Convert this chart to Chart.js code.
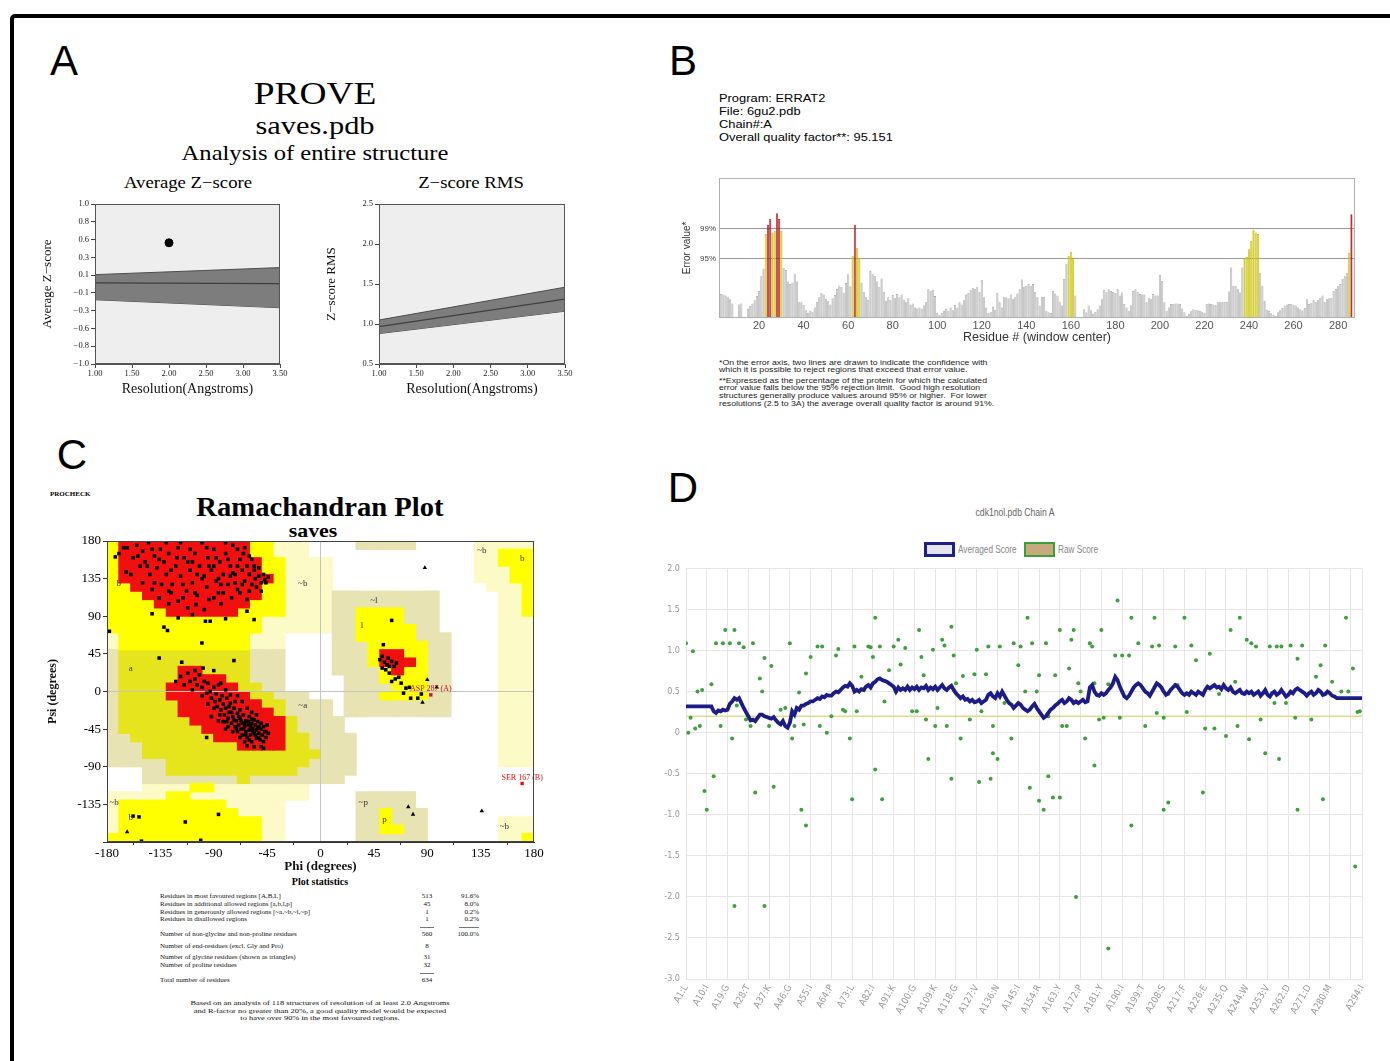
<!DOCTYPE html>
<html>
<head>
<meta charset="utf-8">
<title>Structure validation panels</title>
<script src="https://cdn.jsdelivr.net/npm/chart.js@4.4.1/dist/chart.umd.min.js"></script>
<style>
html,body{margin:0;padding:0;background:#fff}
body{width:1390px;height:1061px;position:relative;overflow:hidden;font-family:"Liberation Sans",Arial,sans-serif;color:#000}
#frame{position:absolute;left:10px;top:14px;width:1420px;height:1100px;border:4px solid #000;border-radius:5px}
.t{position:absolute;white-space:nowrap;line-height:1}
.c{transform:translate(-50%,-50%)}
.l{transform:translate(0,-50%)}
.r{transform:translate(-100%,-50%)}
.serif{font-family:"Liberation Serif","Times New Roman",serif}
.narrow{font-family:"Liberation Sans Narrow","DejaVu Sans Condensed","Liberation Sans",sans-serif}
canvas{position:absolute}
.letter{font-size:42px}
.note{font-size:7px;color:#222;transform-origin:left center;transform:translate(0,-50%) scaleX(1.25)}
.stat{font-size:7px;color:#111}
.sep{position:absolute;height:0;border-top:1px solid #777}
.lgbox{position:absolute;box-sizing:border-box}
.wideC{transform:translate(-50%,-50%) scaleX(1.17)}
.wideL{transform-origin:left center;transform:translate(0,-50%) scaleX(1.17)}
.narrowC{transform:translate(-50%,-50%) scaleX(0.86)}
.narrowL{transform-origin:left center;transform:translate(0,-50%) scaleX(0.82)}
</style>
</head>
<body>
<div id="frame"></div>

<!-- panel letters -->
<div class="t c letter" style="left:64px;top:61px">A</div>
<div class="t c letter" style="left:683px;top:61px">B</div>
<div class="t c letter" style="left:72px;top:455px">C</div>
<div class="t c letter" style="left:683px;top:488px">D</div>

<!-- Panel A texts -->
<div class="t wideC serif" style="left:315px;top:93px;font-size:32px">PROVE</div>
<div class="t wideC serif" style="left:315px;top:126px;font-size:26px">saves.pdb</div>
<div class="t wideC serif" style="left:315px;top:153px;font-size:21px">Analysis of entire structure</div>
<div class="t wideC serif" style="left:188px;top:183px;font-size:16px">Average Z&#8722;score</div>
<div class="t wideC serif" style="left:471px;top:183px;font-size:16px">Z&#8722;score RMS</div>

<!-- Panel B texts -->
<div class="t wideL" style="left:719px;top:98px;font-size:11px">Program: ERRAT2</div>
<div class="t wideL" style="left:719px;top:111px;font-size:11px">File: 6gu2.pdb</div>
<div class="t wideL" style="left:719px;top:124px;font-size:11px">Chain#:A</div>
<div class="t wideL" style="left:719px;top:137px;font-size:11px">Overall quality factor**: 95.151</div>
<div class="t note" style="left:719px;top:362px">*On the error axis, two lines are drawn to indicate the confidence with</div>
<div class="t note" style="left:719px;top:369px">which it is possible to reject regions that exceed that error value.</div>
<div class="t note" style="left:719px;top:380px">**Expressed as the percentage of the protein for which the calculated</div>
<div class="t note" style="left:719px;top:387px">error value falls below the 95% rejection limit.&nbsp; Good high resolution</div>
<div class="t note" style="left:719px;top:395px">structures generally produce values around 95% or higher.&nbsp; For lower</div>
<div class="t note" style="left:719px;top:403px">resolutions (2.5 to 3A) the average overall quality factor is around 91%.</div>

<!-- Panel C texts -->
<div class="t l serif" style="left:50px;top:494px;font-size:7px;font-weight:bold">PROCHECK</div>
<div class="t c serif" style="left:320px;top:507px;font-size:27px;font-weight:bold;transform:translate(-50%,-50%) scaleX(1.06)">Ramachandran Plot</div>
<div class="t c serif" style="left:313px;top:530px;font-size:19px;font-weight:bold;transform:translate(-50%,-50%) scaleX(1.15)">saves</div>
<div class="t c serif" style="left:320px;top:882px;font-size:10px;font-weight:bold">Plot statistics</div>
<div id="statTable"></div>
<div class="t c serif stat" style="left:320px;top:1003px;font-size:7px;transform:translate(-50%,-50%) scaleX(1.2)">Based on an analysis of 118 structures of resolution of at least 2.0 Angstroms</div>
<div class="t c serif stat" style="left:320px;top:1011px;font-size:7px;transform:translate(-50%,-50%) scaleX(1.2)">and R-factor no greater than 20%, a good quality model would be expected</div>
<div class="t c serif stat" style="left:320px;top:1018px;font-size:7px;transform:translate(-50%,-50%) scaleX(1.2)">to have over 90% in the most favoured regions.</div>

<!-- Panel D texts -->
<div class="t narrowC" style="left:1015px;top:513px;font-size:10px;color:#666">cdk1nol.pdb Chain A</div>
<div class="lgbox" style="left:924px;top:542px;width:31px;height:15px;border:3px solid #1f1f8c;background:#e4e4ec"></div>
<div class="t narrowL" style="left:958px;top:550px;font-size:10px;color:#888">Averaged Score</div>
<div class="lgbox" style="left:1024px;top:542px;width:31px;height:15px;border:2px solid #3aa03a;background:#c6aa7c"></div>
<div class="t narrowL" style="left:1058px;top:550px;font-size:10px;color:#888">Raw Score</div>

<canvas id="zavg" width="250" height="207" style="left:40px;top:195px"></canvas>
<canvas id="zrms" width="251" height="207" style="left:324px;top:195px"></canvas>
<canvas id="errat" width="689" height="177" style="left:681px;top:170px"></canvas>
<canvas id="rama" width="504" height="346" style="left:46px;top:531px"></canvas>
<canvas id="verify" width="736" height="482" style="left:640px;top:557px"></canvas>

<script>
// ---------------- Panel A : PROVE ----------------
const resolutionEnds = [1.0, 3.5];
const zAvgUpper = [0.117, 0.205];
const zAvgMean = [0.013, 0.004];
const zAvgLower = [-0.197, -0.297];
const zAvgModel = [[2.0, 0.515]];
const zAvgTickValues = [1.0, 0.778, 0.556, 0.333, 0.111, -0.111, -0.333, -0.556, -0.778, -1.0];
const zAvgTickLabels = ['1.0','0.8','0.6','0.3','0.1','\u22120.1','\u22120.3','\u22120.6','\u22120.8','\u22121.0'];
const zRmsUpper = [1.05, 1.46];
const zRmsMean = [0.967, 1.31];
const zRmsLower = [0.88, 1.16];
const zRmsTickValues = [0.5, 1.0, 1.5, 2.0, 2.5];
const resolutionTicks = [1.0, 1.5, 2.0, 2.5, 3.0, 3.5];

// ---------------- Panel B : ERRAT ----------------
const erratFirstResidue = 3;
const erratValues = [
 4.6,4.5,4.3,4.0,3.6,2.8,0,0,2.6,2.8,
 0,0,1.8,2.3,2.8,3.4,4.2,5.2,8.0,9.5,
 16.1,17.9,19.0,16.4,16.7,20.1,19.0,16.7,9.6,9.2,
 7.0,6.5,6.8,8.5,7.0,3.0,3.0,2.5,1.5,1.0,
 1.4,1.2,2.0,3.0,4.0,4.8,4.5,3.7,3.2,2.6,
 3.8,4.4,5.6,6.2,6.0,4.8,6.7,8.4,6.1,11.9,
 17.9,13.5,11.5,6.8,5.0,4.0,3.5,9.0,8.5,8.0,
 7.0,6.0,7.6,5.0,3.2,4.0,3.5,4.4,3.8,4.6,
 4.0,4.5,3.5,3.0,3.8,2.6,2.8,2.0,1.8,2.0,
 1.8,2.4,3.0,5.5,5.2,5.4,4.2,1.0,0.6,1.0,
 1.4,1.8,1.4,2.0,1.5,2.5,2.0,3.0,2.6,3.4,
 4.5,4.8,5.4,5.8,5.5,6.0,5.0,7.3,4.0,2.0,
 1.0,1.2,2.2,1.6,4.8,3.0,2.0,4.0,4.0,3.8,
 4.5,3.6,4.0,4.7,5.5,7.4,6.0,6.2,6.5,6.2,
 6.5,5.0,4.1,2.4,4.1,4.1,1.4,1.1,1.0,5.2,
 4.7,4.3,3.0,2.4,7.5,10.3,11.9,12.7,11.5,4.3,
 0,0,0,1.7,1.1,2.4,1.5,0.8,1.2,1.7,
 2.4,3.6,5.4,5.0,5.5,5.2,5.0,4.8,5.5,4.3,
 4.9,2.7,2.0,1.4,2.4,5.2,5.5,5.0,4.6,4.5,
 4.5,3.0,3.9,3.6,4.6,4.3,4.3,8.3,7.1,3.0,
 1.4,2.0,2.7,2.7,2.8,2.8,2.7,1.8,1.1,0.4,
 0.8,1.3,1.7,1.6,1.5,1.4,1.2,1.0,2.7,2.8,
 2.7,2.6,2.5,3.0,3.0,3.0,3.1,3.1,5.1,9.7,
 6.2,6.2,5.5,4.9,9.7,11.5,11.7,13.2,14.8,17.0,
 16.4,16.1,8.7,6.2,3.3,1.6,1.4,0.9,0.6,0.4,
 1.1,1.5,1.9,2.4,2.6,2.7,2.7,2.5,2.4,2.0,
 1.7,1.5,1.9,3.6,2.7,2.9,3.4,3.0,3.5,3.9,
 4.3,3.0,3.6,3.8,3.9,5.2,5.6,6.2,6.5,7.5,
 8.0,8.7,12.5,19.9
];
const erratLimitValues = [11.38, 17.19];
const erratLimitLabels = ['95%', '99%'];
const erratResidueTicks = [20,40,60,80,100,120,140,160,180,200,220,240,260,280];

// ---------------- Panel C : Ramachandran ----------------
// 36 rows (psi 180 -> -180, 10 deg each), run-length coded over 36 phi bins (-180 -> 180)
// R core, Y allowed, D allowed (shaded), G generous (shaded), C generous, W disallowed
const ramaRegionRows = [
 'Y1R11Y2C3W4G5W5C5','Y1R11Y2C3W14C2Y3','Y1R12Y2C4W12C2Y3','Y1R12Y2C4W12C3Y2',
 'Y1R13Y1C4W12C3Y2','Y2R11Y2C4W13C3Y1','Y3R10Y2C4G9W5C2Y1','Y4R8Y3C4G9W5C2Y1',
 'Y5R6Y4C4G2Y4G3W5C2Y1','Y13C6G2Y4G3W5C3','Y13C6G2Y5G2W5C3','C1Y11C3W4G2Y5G3W4C3',
 'C1Y11C3W4G3Y5G2W4C3','G1D11G3W4G3Y1R2Y2G2W4C3','G1D11G3W4G3Y1R3Y1G2W4C3','G1D5R2D4G3W4G4Y1R1Y2G2W4C3',
 'G1D5R4D2G3W5G3Y4G2W4C3','G1D4R6D2G2W5G4Y3G2W4C3','G1D4R7D2G3W3G3Y4G2W4C3','G1D5R7D2G4W1G9W4C3',
 'G1D5R8D1G4W1G9W4C3','G1D6R8D1G4W13C3','G1D7R7D1G4W13C3','G2D7R6D2G4W12C3',
 'G3D8R4D2G4W12C3','G3D15G3W12C3','G5D12G4W12C3','W3G2D11G5W15',
 'W3G8D1G8W16','W3C4Y2C8W19','C5Y2C10W4G5W10','C1Y9C5W6G5W10',
 'C1Y10C4W6G2Y1G3W9','C1Y12C2W6G2Y1G3W6C3','C1Y12C2W6G2Y2G2W6C3','Y13C2W6G6W6C2Y1'
];
const ramaResidues = [
 [-170,165],[-163,172],[-158,160],[-155,175],[-150,168],[-148,155],[-145,178],[-140,162],[-138,148],[-135,170],
 [-132,155],[-130,140],[-128,165],[-125,128],[-122,150],[-120,172],[-118,138],[-115,160],[-113,120],[-110,145],
 [-108,130],[-106,165],[-104,115],[-102,150],[-100,178],[-98,138],[-96,125],[-95,160],[-92,145],[-90,170],
 [-88,132],[-86,118],[-85,155],[-82,140],[-80,165],[-78,128],[-76,150],[-74,175],[-72,140],[-70,122],
 [-68,158],[-66,145],[-64,132],[-62,150],[-60,140],[-58,128],[-56,145],[-55,135],[-52,138],[-50,130],
 [-160,140],[-150,130],[-142,122],[-136,112],[-128,105],[-120,108],[-112,100],[-105,104],[-98,98],[-90,112],
 [-84,105],[-75,112],[-68,118],[-62,110],[-58,158],[-70,170],[-65,165],[-80,178],[-118,178],[-130,178],
 [-144,140],[-152,150],[-134,128],[-126,118],[-116,128],[-108,155],[-100,135],[-94,150],[-88,160],[-76,138],
 [-72,130],[-66,128],[-60,120],[-54,125],[-48,140],[-46,130],
 [-166,172],[-154,162],[-146,150],[-142,170],[-136,158],[-126,145],[-121,160],[-112,155],[-110,170],[-104,140],
 [-96,172],[-90,150],[-84,128],[-82,118],[-78,158],[-74,142],[-70,150],[-64,172],[-60,162],[-56,150],
 [-52,148],[-50,120],[-47,134],[-44,137],[-140,130],[-128,120],[-116,112],[-106,118],[-94,110],[-86,135],
 [-173,161],[-164,143],[-142,93],[-132,77],[-129,73],[-120,88],[-108,92],[-97,84],[-93,84],[-80,87],
 [-62,96],[-56,86],[-178,72],[-100,58],[-136,40],[-117,35],[-99,28],[-73,37],
 [-118,18],[-112,22],[-110,12],[-106,15],[-104,8],[-102,20],[-100,5],[-98,12],[-96,-2],[-95,10],
 [-93,0],[-92,-8],[-90,5],[-89,-12],[-88,-3],[-87,-18],[-86,8],[-85,-10],[-84,-22],[-83,-5],
 [-82,-15],[-81,-28],[-80,-20],[-79,-8],[-78,-32],[-77,-25],[-76,-14],[-75,-38],[-74,-30],[-73,-20],
 [-72,-42],[-71,-35],[-70,-26],[-70,-48],[-69,-40],[-68,-32],[-67,-45],[-66,-38],[-66,-52],[-65,-28],
 [-64,-42],[-63,-35],[-63,-48],[-62,-55],[-61,-40],[-60,-30],[-60,-46],[-59,-52],[-58,-38],[-58,-60],
 [-57,-44],[-56,-34],[-56,-50],[-55,-40],[-54,-56],[-54,-46],[-53,-36],[-52,-50],[-52,-42],[-51,-58],
 [-50,-45],[-50,-38],[-49,-52],[-48,-42],[-48,-60],[-47,-48],[-46,-55],[-45,-40],[-44,-50],[-68,-22],
 [-72,-12],[-76,-4],[-80,2],[-84,10],[-90,-20],[-95,-15],[-100,-5],[-108,2],[-115,8],[-64,-60],
 [-68,-55],[-74,-48],[-78,-42],[-82,-36],[-62,-20],[-58,-25],[-54,-28],[-66,-12],[-70,-5],[-106,25],
 [-122,12],[-90,25],[-80,-45],[-86,-35],[-92,-30],[-62,-65],[-56,-66],[-50,-66],[-96,-55],[-48,-68],
 [-65,-45],[-61,-36],[-57,-48],[-53,-44],[-59,-42],[-67,-35],[-63,-52],[-55,-52],[-71,-44],[-69,-30],
 [-75,-25],[-79,-36],[-60,-58],[-52,-55],[-46,-48],[-64,-38],[-58,-33],[-73,-34],[-77,-18],[-85,-28],
 [53,56],[60,85],[52,42],[50,38],[54,35],[56,32],[58,30],[52,28],[60,36],[57,40],
 [62,30],[64,34],[55,26],[58,22],[63,15],[66,17],[60,12],[68,10],[72,4],[70,-2],
 [75,5],[76,-8],[82,-8],[85,-3],
 [-153,-150],[-158,-149],[-114,-156],[-86,-147],[-151,-179],[-101,-178]
];
const glycineResidues = [[90,14],[98,5],[86,-13],[74,-138],[78,-147],[-163,-168],[88,148],[136,-143]];
const flaggedResidues = [{name:'ASP 287 (A)', phi:93, psi:-4}, {name:'SER 167 (B)', phi:170, psi:-110}];
const regionLabels = [
 {text:'b', phi:-170, psi:129},{text:'~b', phi:-15, psi:129},{text:'~l', phi:45, psi:109},{text:'l', phi:35, psi:79},
 {text:'a', phi:-160, psi:27},{text:'~a', phi:-15, psi:-17},{text:'~b', phi:136, psi:169},{text:'b', phi:170, psi:159},
 {text:'~b', phi:-174, psi:-133},{text:'b', phi:-160, psi:-151},{text:'~p', phi:36, psi:-133},{text:'p', phi:54, psi:-153},
 {text:'~b', phi:155, psi:-162}
];
const ramaTicks = [-180,-135,-90,-45,0,45,90,135,180];
const statRows = [
 ['Residues in most favoured regions  [A,B,L]', '513', '91.6%'],
 ['Residues in additional allowed regions  [a,b,l,p]', '45', '8.0%'],
 ['Residues in generously allowed regions  [~a,~b,~l,~p]', '1', '0.2%'],
 ['Residues in disallowed regions', '1', '0.2%'],
 ['Number of non-glycine and non-proline residues', '560', '100.0%'],
 ['Number of end-residues (excl. Gly and Pro)', '8', ''],
 ['Number of glycine residues (shown as triangles)', '31', ''],
 ['Number of proline residues', '32', ''],
 ['Total number of residues', '634', '']
];

// ---------------- Panel D : Verify3D ----------------
const verifyTickResidues = [1,10,19,28,37,46,55,64,73,82,91,100,109,118,127,136,145,154,163,172,181,190,199,208,217,226,235,244,253,262,271,280,289,294];
const verifyTickLabels = ['A1:L','A10:I','A19:G','A28:T','A37:K','A46:G','A55:I','A64:P','A73:L','A82:I','A91:K','A100:G','A109:K','A118:G','A127:V','A136:N','A145:I','A154:R','A163:Y','A172:P','A181:Y','A190:I','A199:T','A208:S','A217:F','A226:E','A235:Q','A244:W','A253:V','A262:D','A271:D','A280:M','','A294:I'];
const averagedScore = [
 0.32,0.32,0.32,0.32,0.32,0.32,0.32,0.32,0.32,0.32,
 0.32,0.32,0.26,0.24,0.27,0.26,0.28,0.27,0.28,0.35,
 0.38,0.42,0.40,0.42,0.36,0.30,0.25,0.20,0.15,0.16,
 0.14,0.18,0.22,0.22,0.20,0.19,0.18,0.17,0.19,0.15,
 0.12,0.10,0.14,0.08,0.06,0.12,0.26,0.22,0.30,0.28,
 0.33,0.33,0.35,0.36,0.38,0.38,0.40,0.42,0.41,0.44,
 0.43,0.46,0.45,0.45,0.48,0.50,0.49,0.52,0.55,0.57,
 0.56,0.60,0.57,0.50,0.52,0.50,0.53,0.52,0.56,0.58,
 0.55,0.60,0.62,0.65,0.66,0.64,0.63,0.62,0.60,0.58,
 0.56,0.50,0.55,0.52,0.54,0.52,0.56,0.52,0.55,0.53,
 0.56,0.52,0.55,0.54,0.57,0.52,0.55,0.53,0.56,0.52,
 0.55,0.58,0.54,0.52,0.55,0.57,0.52,0.48,0.45,0.42,
 0.44,0.40,0.41,0.38,0.40,0.37,0.38,0.40,0.36,0.38,
 0.40,0.46,0.48,0.44,0.42,0.48,0.44,0.50,0.45,0.40,
 0.36,0.34,0.30,0.33,0.36,0.34,0.30,0.28,0.26,0.28,
 0.32,0.35,0.30,0.26,0.22,0.18,0.20,0.24,0.28,0.30,
 0.33,0.35,0.38,0.40,0.36,0.38,0.42,0.40,0.36,0.38,
 0.36,0.38,0.40,0.37,0.38,0.55,0.58,0.50,0.46,0.45,
 0.48,0.46,0.48,0.52,0.55,0.60,0.68,0.64,0.56,0.50,
 0.44,0.42,0.45,0.50,0.55,0.58,0.60,0.58,0.54,0.50,
 0.48,0.45,0.50,0.55,0.60,0.58,0.55,0.50,0.46,0.48,
 0.52,0.55,0.58,0.56,0.52,0.48,0.46,0.48,0.46,0.50,
 0.48,0.46,0.50,0.48,0.46,0.52,0.56,0.54,0.56,0.58,
 0.55,0.56,0.53,0.58,0.54,0.52,0.55,0.50,0.48,0.50,
 0.52,0.48,0.47,0.50,0.48,0.50,0.46,0.48,0.50,0.45,
 0.48,0.52,0.46,0.44,0.48,0.50,0.46,0.48,0.52,0.48,
 0.44,0.46,0.50,0.48,0.52,0.54,0.52,0.50,0.48,0.45,
 0.48,0.50,0.46,0.48,0.52,0.50,0.46,0.47,0.50,0.48,
 0.45,0.44,0.42,0.42,0.42,0.42,0.42,0.42,0.42,0.42,
 0.42,0.42,0.42,0.42
];
const rawScore = [
 [1,1.09],[2,0.0],[3,0.18],[4,0.99],[5,0.05],[6,0.50],[7,0.08],[8,0.52],[12,0.59],[14,1.09],
 [17,1.09],[16,0.08],[18,1.25],[20,1.09],[21,-0.07],[22,1.25],[23,0.33],[24,1.09],[26,1.04],[27,0.16],
 [29,0.08],[30,1.09],[33,0.66],[34,0.5],[35,0.91],[37,0.08],[38,0.81],[42,0.28],[44,0.3],[46,1.09],
 [47,-0.07],[48,0.08],[50,0.49],[52,0.1],[53,0.72],[55,0.92],[58,1.05],[59,0.08],[60,1.05],[62,0.0],
 [64,0.2],[66,0.94],[67,1.02],[69,0.28],[70,0.26],[72,-0.07],[74,1.05],[75,0.26],[77,0.68],[78,0.52],
 [80,1.05],[81,1.04],[82,0.92],[83,1.4],[85,1.05],[87,0.38],[89,0.76],[91,1.05],[92,0.5],[93,1.13],
 [94,0.83],[96,1.03],[99,0.26],[101,0.26],[102,1.25],[103,0.92],[104,0.7],[105,0.16],[108,1.01],[109,0.08],
 [110,0.3],[112,1.13],[113,1.06],[114,0.08],[116,1.29],[117,0.94],[118,0.6],[120,-0.07],[121,0.69],[124,0.16],
 [126,0.71],[127,1.01],[129,0.26],[131,0.71],[132,1.05],[134,0.08],[137,1.05],[139,0.36],[142,-0.07],[143,1.09],
 [145,0.82],[146,1.05],[148,0.5],[149,1.4],[151,1.09],[153,0.5],[154,0.7],[157,1.09],[158,0.2],[161,0.7],
 [163,1.25],[164,0.08],[166,0.08],[167,0.78],[168,1.13],[169,1.25],[171,0.6],[172,0.5],[174,-0.07],[176,1.09],
 [177,1.05],[178,0.6],[180,0.16],[181,1.25],[182,0.18],[184,0.59],[187,0.94],[188,1.61],[189,0.18],[190,0.94],
 [193,0.94],[194,1.4],[197,1.09],[200,0.08],[203,1.05],[204,1.4],[205,0.24],[206,1.06],[208,0.18],[210,0.47],
 [213,1.05],[214,0.58],[217,1.4],[218,0.25],[220,1.06],[222,0.88],[226,0.05],[228,0.96],[230,0.05],[232,0.47],
 [235,-0.04],[237,1.25],[239,0.62],[240,0.08],[241,1.4],[243,0.48],[244,1.13],[245,-0.08],[246,1.09],[248,1.05],
 [250,0.16],[251,0.48],[254,1.05],[256,0.36],[257,1.05],[259,1.05],[261,0.36],[263,1.06],[265,0.18],[266,0.9],
 [268,1.06],[272,0.16],[274,0.68],[276,0.82],[278,1.06],[281,0.62],[285,0.5],[287,1.4],[288,0.5],[290,0.78],
 [292,0.25],[293,0.26],
 [9,-0.71],[10,-0.94],[13,-0.53],[22,-2.11],[31,-0.73],[35,-2.11],[39,-0.66],[51,-0.94],[53,-1.13],[73,-0.81],
 [83,-0.45],[86,-0.81],[106,-0.32],[116,-0.56],[128,-0.6],[133,-0.56],[134,-0.25],[136,-0.32],[150,-0.67],[154,-0.83],
 [156,-0.94],[158,-0.53],[160,-0.79],[163,-0.79],[170,-2.0],[178,-0.4],[184,-2.63],[194,-1.13],[208,-0.94],[210,-0.85],
 [225,-0.73],[252,-0.25],[258,-0.32],[266,-0.94],[277,-0.81],[291,-1.63]
];
const verifyPassLine = 0.2;
const verifyResidueEnds = [1, 294];

// ================= rendering =================
const SERIF = '"Liberation Serif","Times New Roman",serif';
const SANS = '"Liberation Sans",Arial,sans-serif';
const NARROW = '"Liberation Sans Narrow","DejaVu Sans Condensed","Liberation Sans",sans-serif';
Chart.defaults.animation = false;
Chart.defaults.responsive = false;
Chart.defaults.devicePixelRatio = 1;
Chart.defaults.events = [];
Chart.defaults.plugins.legend.display = false;
Chart.defaults.plugins.tooltip.enabled = false;

const areaPlugin = {
  id: 'areaDeco',
  beforeDatasetsDraw(chart, args, opts) {
    if (!opts || !opts.bg) return;
    const a = chart.chartArea, ctx = chart.ctx;
    ctx.save(); ctx.fillStyle = opts.bg; ctx.fillRect(a.left, a.top, a.width, a.height); ctx.restore();
  },
  afterDatasetsDraw(chart, args, opts) {
    const ctx = chart.ctx;
    if (opts && opts.labels) {
      const xs = chart.scales.x, ys = chart.scales.y;
      ctx.save();
      for (const it of opts.labels) {
        ctx.font = it.font; ctx.fillStyle = it.color; ctx.textAlign = it.align || 'center'; ctx.textBaseline = 'middle';
        ctx.fillText(it.text, xs.getPixelForValue(it.x), ys.getPixelForValue(it.y));
      }
      ctx.restore();
    }
    if (opts && opts.border) {
      const a = chart.chartArea;
      ctx.save(); ctx.strokeStyle = opts.border; ctx.lineWidth = opts.borderWidth || 1;
      ctx.strokeRect(Math.round(a.left) + 0.5, Math.round(a.top) + 0.5, Math.round(a.width) - 1, Math.round(a.height) - 1);
      ctx.restore();
    }
  }
};
Chart.register(areaPlugin);

function provePanel(id, upper, mean, lower, model, yMin, yMax, yTickValues, yTickLabel, yTitle) {
  const xy = (ys) => resolutionEnds.map((x, i) => ({x, y: ys[i]}));
  new Chart(document.getElementById(id), {
    type: 'line',
    data: { datasets: [
      { data: model.map(p => ({x: p[0], y: p[1]})), showLine: false, pointRadius: 4, pointBackgroundColor: '#000', pointBorderColor: '#000' },
      { data: xy(mean), borderColor: '#3f3f3f', borderWidth: 1.2, pointRadius: 0, fill: false },
      { data: xy(upper), borderColor: '#4d4d4d', borderWidth: 1, pointRadius: 0, fill: '+1', backgroundColor: '#7d7d7d' },
      { data: xy(lower), borderColor: '#4d4d4d', borderWidth: 1, pointRadius: 0, fill: false }
    ]},
    options: {
      layout: { padding: { top: 9, right: 10, left: 0, bottom: 0 } },
      scales: {
        x: { type: 'linear', min: resolutionEnds[0], max: resolutionEnds[1],
          afterBuildTicks: s => { s.ticks = resolutionTicks.map(v => ({value: v})); },
          ticks: { callback: v => v.toFixed(2), font: { family: SERIF, size: 8.5 }, color: '#222', padding: 1, maxRotation: 0 },
          grid: { drawOnChartArea: false, drawTicks: true, tickLength: 4, color: '#444' }, border: { color: '#555' },
          title: { display: true, text: 'Resolution(Angstroms)', font: { family: SERIF, size: 14 }, color: '#111', padding: { top: 0, bottom: 4 } },
          afterFit: s => { s.height = 38; } },
        y: { min: yMin, max: yMax,
          afterBuildTicks: s => { s.ticks = yTickValues.map(v => ({value: v})); },
          ticks: { callback: (v, i) => yTickLabel(v, i), font: { family: SERIF, size: 8.5 }, color: '#222', padding: 2 },
          grid: { drawOnChartArea: false, drawTicks: true, tickLength: 4, color: '#444' }, border: { color: '#555' },
          title: { display: true, text: yTitle, font: { family: SERIF, size: 13 }, color: '#111', padding: { top: 0, bottom: 4 } },
          afterFit: s => { s.width = 55; } }
      },
      plugins: { areaDeco: { bg: '#eeeeee', border: '#555' } }
    }
  });
}
provePanel('zavg', zAvgUpper, zAvgMean, zAvgLower, zAvgModel, -1, 1, zAvgTickValues, (v, i) => zAvgTickLabels[i], 'Average Z\u2212score');
provePanel('zrms', zRmsUpper, zRmsMean, zRmsLower, [], 0.5, 2.5, zRmsTickValues, v => v.toFixed(1), 'Z\u2212score RMS');

// ERRAT
const erratColor = v => v > erratLimitValues[1] ? '#c4161c' : (v > erratLimitValues[0] ? '#d8cf10' : '#c9c9c9');
const erratEdge = v => v > erratLimitValues[1] ? '#a01015' : (v > erratLimitValues[0] ? '#b8ae00' : '#9c9c9c');
new Chart(document.getElementById('errat'), {
  type: 'bar',
  data: { datasets: [{
    data: erratValues.map((v, i) => ({x: erratFirstResidue + i, y: v})),
    backgroundColor: c => erratColor(c.raw.y), borderColor: c => erratEdge(c.raw.y),
    borderWidth: 0.6, borderSkipped: 'bottom', barPercentage: 0.95, categoryPercentage: 1
  }]},
  options: {
    layout: { padding: { top: 7, right: 15, left: 0, bottom: 0 } },
    scales: {
      x: { type: 'linear', min: 2, max: 287.6, offset: false,
        afterBuildTicks: s => { s.ticks = erratResidueTicks.map(v => ({value: v})); },
        ticks: { font: { family: SANS, size: 11 }, color: '#555', padding: 1, maxRotation: 0 },
        grid: { display: false, drawTicks: false }, border: { display: false },
        title: { display: true, text: 'Residue # (window center)', font: { family: SANS, size: 12.5 }, color: '#333', padding: { top: 0, bottom: 2 } },
        afterFit: s => { s.height = 29; } },
      y: { min: 0, max: 26.9,
        afterBuildTicks: s => { s.ticks = erratLimitValues.map(v => ({value: v})); },
        ticks: { callback: (v, i) => erratLimitLabels[i], font: { family: SANS, size: 8 }, color: '#444', padding: 3 },
        grid: { color: '#9a9a9a', lineWidth: 1, drawTicks: false }, border: { display: false },
        title: { display: true, text: 'Error value*', font: { family: SANS, size: 10 }, color: '#333', padding: { top: 0, bottom: 0 } },
        afterFit: s => { s.width = 38; } }
    },
    plugins: { areaDeco: { border: '#b0b0b0' } }
  }
});

// Ramachandran
const regionColors = { R: '#f01010', Y: '#ffff00', D: '#e6e41c', G: '#e7e3b2', C: '#fcfac6' };
const regionBars = { R: [], Y: [], D: [], G: [], C: [] };
const regionGrid = ramaRegionRows.map(row => {
  const cells = [];
  row.replace(/([A-Z])(\d+)/g, (m, code, n) => { for (let k = 0; k < +n; k++) cells.push(code); return m; });
  return cells;
});
for (let c = 0; c < 36; c++) {
  let r = 0;
  while (r < 36) {
    const code = regionGrid[r][c];
    let r2 = r;
    while (r2 + 1 < 36 && regionGrid[r2 + 1][c] === code) r2++;
    if (regionBars[code]) regionBars[code].push({ x: -175 + 10 * c, y: [170 - 10 * r2, 180 - 10 * r] });
    r = r2 + 1;
  }
}
const regionDatasets = Object.keys(regionBars).map(code => ({
  type: 'bar', data: regionBars[code], backgroundColor: regionColors[code], borderWidth: 0,
  grouped: false, barPercentage: 1, categoryPercentage: 1, order: 10, inflateAmount: 0.6
}));
const ramaLabels = regionLabels.map(l => ({ text: l.text, x: l.phi, y: l.psi, font: '9px ' + SERIF, color: '#333' }))
  .concat(flaggedResidues.map(f => ({ text: f.name, x: f.phi, y: f.psi + 7, font: '8px ' + SERIF, color: '#e01010' })));
new Chart(document.getElementById('rama'), {
  type: 'bar',
  data: { datasets: regionDatasets.concat([
    { type: 'line', data: [{x: 0, y: -180}, {x: 0, y: 180}], borderColor: '#c4c4c4', borderWidth: 1, pointRadius: 0, order: 5 },
    { type: 'line', data: [{x: -180, y: 0}, {x: 180, y: 0}], borderColor: '#c4c4c4', borderWidth: 1, pointRadius: 0, order: 5 },
    { type: 'scatter', data: ramaResidues.map(p => ({x: p[0], y: p[1]})), pointStyle: 'rect', pointRadius: 2.5, backgroundColor: '#000', borderColor: '#000', borderWidth: 0, order: 0 },
    { type: 'scatter', data: glycineResidues.map(p => ({x: p[0], y: p[1]})), pointStyle: 'triangle', pointRadius: 2.6, backgroundColor: '#000', borderColor: '#000', borderWidth: 0, order: 0 },
    { type: 'scatter', data: flaggedResidues.map(f => ({x: f.phi, y: f.psi})), pointStyle: 'rect', pointRadius: 2.4, backgroundColor: '#e01010', borderColor: '#e01010', borderWidth: 0, order: 0 }
  ])},
  options: {
    layout: { padding: { top: 10, right: 16, left: 0, bottom: 0 } },
    scales: {
      x: { type: 'linear', min: -180, max: 180, offset: false,
        afterBuildTicks: s => { s.ticks = ramaTicks.map(v => ({value: v})); },
        ticks: { callback: v => String(v), font: { family: SERIF, size: 13 }, color: '#000', padding: 1, maxRotation: 0 },
        grid: { drawOnChartArea: false, drawTicks: true, tickLength: 3, color: '#333' }, border: { color: '#333' },
        title: { display: true, text: 'Phi (degrees)', font: { family: SERIF, size: 13, weight: 'bold' }, color: '#111', padding: { top: 0, bottom: 3 } },
        afterFit: s => { s.height = 35; } },
      y: { type: 'linear', min: -180, max: 180,
        afterBuildTicks: s => { s.ticks = ramaTicks.map(v => ({value: v})); },
        ticks: { callback: v => v === -180 ? '' : String(v), font: { family: SERIF, size: 13 }, color: '#000', padding: 2 },
        grid: { drawOnChartArea: false, drawTicks: true, tickLength: 4, color: '#333' }, border: { color: '#333' },
        title: { display: true, text: 'Psi (degrees)', font: { family: SERIF, size: 12, weight: 'bold' }, color: '#111', padding: { top: 0, bottom: 4 } },
        afterFit: s => { s.width = 61; } }
    },
    plugins: { areaDeco: { border: '#444', labels: ramaLabels } }
  }
});

// Stats table (text)
(function () {
  const host = document.getElementById('statTable');
  const rowY = [896, 904, 912, 919, 934, 946, 957, 965, 980];
  statRows.forEach((row, i) => {
    const y = rowY[i];
    host.insertAdjacentHTML('beforeend',
      '<div class="t l serif stat" style="left:160px;top:' + y + 'px">' + row[0] + '</div>' +
      '<div class="t c serif stat" style="left:427px;top:' + y + 'px">' + row[1] + '</div>' +
      (row[2] ? '<div class="t r serif stat" style="left:479px;top:' + y + 'px">' + row[2] + '</div>' : ''));
  });
  host.insertAdjacentHTML('beforeend',
    '<div class="sep" style="left:420px;top:927px;width:14px"></div><div class="sep" style="left:459px;top:927px;width:20px"></div>' +
    '<div class="sep" style="left:420px;top:973px;width:14px"></div>');
})();

// Verify3D
new Chart(document.getElementById('verify'), {
  type: 'line',
  data: { datasets: [
    { label: 'Averaged Score', data: averagedScore.map((v, i) => ({x: i + 1, y: v})), borderColor: '#1c1c86', borderWidth: 3.8, pointRadius: 0, tension: 0, order: 1 },
    { label: 'Raw Score', data: rawScore.map(p => ({x: p[0], y: p[1]})), showLine: false, pointRadius: 2, pointBackgroundColor: '#3f9f3f', pointBorderColor: '#3f9f3f', pointBorderWidth: 0, order: 2 },
    { data: verifyResidueEnds.map(x => ({x, y: verifyPassLine})), borderColor: '#dede8a', borderWidth: 1.5, pointRadius: 0, order: 3 }
  ]},
  options: {
    layout: { padding: { top: 10, right: 10, left: 0, bottom: 0 } },
    scales: {
      x: { type: 'linear', min: verifyResidueEnds[0], max: verifyResidueEnds[1],
        afterBuildTicks: s => { s.ticks = verifyTickResidues.map(v => ({value: v})); },
        ticks: { callback: (v, i) => verifyTickLabels[i], autoSkip: false, minRotation: 60, maxRotation: 60, font: { family: NARROW, size: 9.5 }, color: '#999', padding: 4 },
        grid: { color: '#e6e6e6', drawTicks: false }, border: { display: false },
        afterFit: s => { s.height = 60; } },
      y: { min: -3, max: 2,
        afterBuildTicks: s => { const t = []; for (let v = 2; v >= -3; v -= 0.5) t.push({value: v}); s.ticks = t; },
        ticks: { callback: v => Math.abs(v) < 1e-9 ? '0' : v.toFixed(1), font: { family: NARROW, size: 9 }, color: '#999', padding: 6 },
        grid: { color: '#e6e6e6', drawTicks: false }, border: { display: false },
        afterFit: s => { s.width = 46; } }
    }
  }
});
</script>
</body>
</html>
